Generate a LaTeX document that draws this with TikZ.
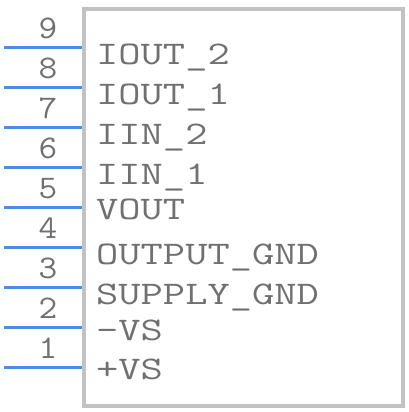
\documentclass[tikz,border=0pt]{standalone}
\usepackage{graphicx}
\definecolor{pinblue}{RGB}{74,142,228}
\definecolor{boxgray}{RGB}{194,194,194}
\definecolor{txtgray}{RGB}{112,112,112}
\newcommand{\wide}[1]{\scalebox{1.31}[1]{#1}}
\newcommand{\numw}[1]{\scalebox{1.1}[1]{#1}}
\tikzset{
  pinline/.style={draw=pinblue, line width=3pt},
  body/.style={draw=boxgray, line width=4pt, rectangle, inner sep=0pt, minimum width=319pt, minimum height=397pt},
  pinlabel/.style={anchor=base west, inner sep=0pt, text=txtgray, font=\ttfamily\fontsize{33}{33}\selectfont},
  pinnum/.style={anchor=base, inner sep=0pt, text=txtgray, font=\ttfamily\fontsize{33}{33}\selectfont}
}
\begin{document}
\begin{tikzpicture}[x=1pt,y=-1pt]
\useasboundingbox (0,0) rectangle (408,412);
\node[body] (box) at (243.5,207.5) {};
% pins
\foreach \n/\y in {9/47.5,8/87.5,7/127.5,6/167.5,5/207.5,4/247.5,3/287.5,2/327.5,1/367.5}{
  \coordinate (p\n) at (4,\y);
  \coordinate (e\n) at (box.west |- p\n);
  \draw[pinline] (p\n) -- (e\n);
  \node[pinnum] (n\n) at (48,\y-9) {\numw{\n}};
}
\node[pinlabel] (l9) at (96,64) {\wide{IOUT\_2}};
\node[pinlabel] (l8) at (96,104) {\wide{IOUT\_1}};
\node[pinlabel] (l7) at (96,144) {\wide{IIN\_2}};
\node[pinlabel] (l6) at (96,184) {\wide{IIN\_1}};
\node[pinlabel] (l5) at (96,219) {\wide{VOUT}};
\node[pinlabel] (l4) at (96,264) {\wide{OUTPUT\_GND}};
\node[pinlabel] (l3) at (96,304) {\wide{SUPPLY\_GND}};
\node[pinlabel] (l2) at (96,340.5) {\wide{-VS}};
\node[pinlabel] (l1) at (96,379) {\wide{+VS}};
\end{tikzpicture}
\end{document}
